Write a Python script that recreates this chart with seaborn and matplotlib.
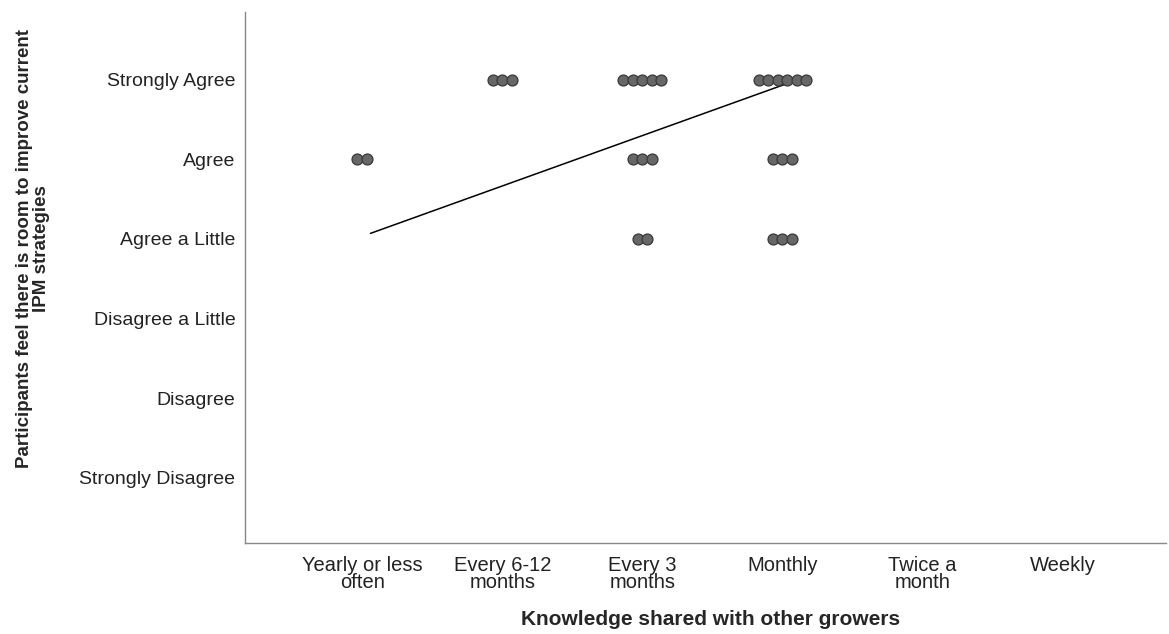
import numpy as np
import pandas as pd
import matplotlib.pyplot as plt
import seaborn as sns

# categories
freq_labels = ['Yearly or less\noften', 'Every 6-12\nmonths', 'Every 3\nmonths',
               'Monthly', 'Twice a\nmonth', 'Weekly']
agree_labels = ['Strongly Disagree', 'Disagree', 'Disagree a Little',
                'Agree a Little', 'Agree', 'Strongly Agree']

# counts per (frequency code, agreement code)
freq_code = [1, 2, 3, 3, 3, 4, 4, 4]
agree_code = [5, 6, 6, 5, 4, 6, 5, 4]
counts = [2, 3, 5, 3, 2, 6, 3, 3]

# fit line end points
line_x = [1.06, 4.11]
line_y = [4.07, 6.0]

# expand counts into one row per dot, stacked side by side
step = 0.068
rows = []
for fx, ay, n in zip(freq_code, agree_code, counts):
    offs = (np.arange(n) - (n - 1) / 2) * step
    for o in offs:
        rows.append({'x': fx + o, 'y': ay})
df = pd.DataFrame(rows)

sns.set_style('white')
plt.rcParams['font.family'] = ['Liberation Sans', 'DejaVu Sans']

fig = plt.figure(figsize=(11.69, 6.34), dpi=100)
ax = fig.add_axes([0.2096, 0.1435, 0.788, 0.8375])

sns.lineplot(x=line_x, y=line_y, ax=ax, color='black', linewidth=1.1)
sns.scatterplot(data=df, x='x', y='y', ax=ax, s=62, color='#676767',
                edgecolor='#383838', linewidth=0.9, zorder=3)

ax.set_xlim(0.164, 6.74)
ax.set_ylim(0.18, 6.85)
ax.set_xticks(range(1, 7))
ax.set_xticklabels(freq_labels, fontsize=14.5, color='#222222', linespacing=0.9)
ax.set_yticks(range(1, 7))
ax.set_yticklabels(agree_labels, fontsize=14, color='#222222')
ax.tick_params(axis='y', length=0, pad=7)
ax.tick_params(axis='x', length=0, pad=9)

ax.set_xlabel('Knowledge shared with other growers', fontsize=15, fontweight='bold')
ax.xaxis.set_label_coords(0.505, -0.127)
ax.set_ylabel('Participants feel there is room to improve current\nIPM strategies',
              fontsize=13.5, fontweight='bold', linespacing=0.95)
ax.yaxis.set_label_coords(-0.212, 0.554)

for side in ['top', 'right']:
    ax.spines[side].set_visible(False)
for side in ['left', 'bottom']:
    ax.spines[side].set_color('#888888')
    ax.spines[side].set_linewidth(1.0)

fig.savefig('out.png', dpi=100)
